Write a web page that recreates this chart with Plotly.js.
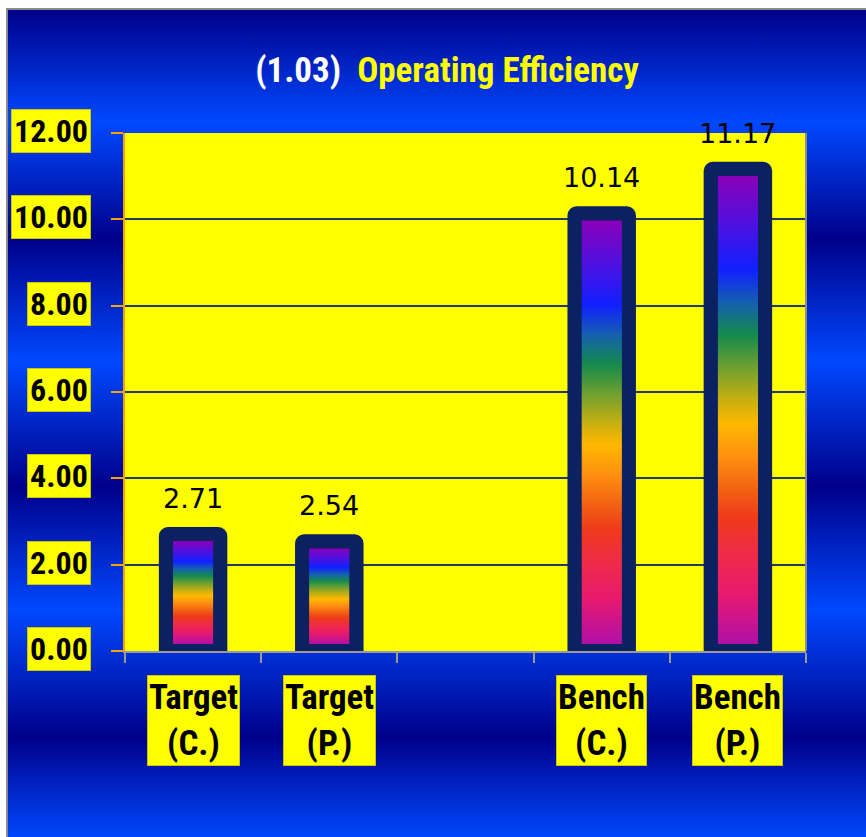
<!DOCTYPE html>
<html><head><meta charset="utf-8">
<script src="https://cdn.plot.ly/plotly-3.0.1.min.js"></script>
<style>
html,body{margin:0;padding:0;background:#fff;width:866px;height:837px;overflow:hidden}
#bg{position:absolute;left:6px;top:8px;width:858px;height:827px;border-left:2px solid #8a8a8a;border-top:2px solid #8a8a8a;
background:linear-gradient(to bottom,#00008a 0px,#0048ff 112px,#00008a 229px,#0048ff 351px,#00008a 477px,#0048ff 600px,#00008a 727px,#0048ff 829px);}
#chart{position:absolute;left:0;top:0;width:866px;height:837px}
</style></head><body><div id="bg"></div><div id="chart"></div>
<script>
// ---- data ----
const categories = ['Target (C.)', 'Target (P.)', ' ', 'Bench (C.)', 'Bench (P.)'];
const tickLabels = ['Target<br>(C.)', 'Target<br>(P.)', '', 'Bench<br>(C.)', 'Bench<br>(P.)'];
const values = [2.71, 2.54, null, 10.14, 11.17];
const valueLabels = ['2.71', '2.54', '', '10.14', '11.17'];
const yTickValues = [0, 2, 4, 6, 8, 10, 12];
const yTickLabels = ['0.00', '2.00', '4.00', '6.00', '8.00', '10.00', '12.00'];
const titlePrefix = '(1.03)';
const titleText = 'Operating Efficiency';

// ---- styling ----
const W = 866, H = 837;
const M = {l: 125, r: 60, t: 133, b: 186};
const plotW = W - M.l - M.r, plotH = H - M.t - M.b;
const yMax = 12;
const barWidth = 0.4;
const frameW = 14;
const frameColor = '#0b2160';
const insetX = (frameW / 2) / (plotW / categories.length);
const insetY = (frameW / 2) / (plotH / yMax);

const stops = [
  [0.00, '#8a00b8'], [0.10, '#5010e0'], [0.20, '#1020ff'], [0.27, '#1460b0'],
  [0.34, '#148a4c'], [0.41, '#70a030'], [0.48, '#c8b010'], [0.53, '#ffb800'],
  [0.60, '#ff9010'], [0.67, '#f26212'], [0.73, '#ef3a1a'], [0.81, '#ee2a48'],
  [0.89, '#e81a6c'], [1.00, '#b010a8']
];
const svg = '<svg xmlns="http://www.w3.org/2000/svg" width="20" height="400" viewBox="0 0 20 400" preserveAspectRatio="none">' +
  '<defs><linearGradient id="g" x1="0" y1="0" x2="0" y2="1">' +
  stops.map(s => '<stop offset="' + s[0] + '" stop-color="' + s[1] + '"/>').join('') +
  '</linearGradient></defs><rect x="0" y="0" width="20" height="400" fill="url(#g)"/></svg>';
const gradSrc = 'data:image/svg+xml;charset=utf-8,' + encodeURIComponent(svg);

const labelFont = {family: 'Roboto Condensed, Liberation Sans Narrow, sans-serif', weight: 700, color: '#000000'};

const images = [];
const annotations = [];
categories.forEach((c, i) => {
  const v = values[i];
  if (v === null) return;
  images.push({
    source: gradSrc, xref: 'x', yref: 'y', x: i, y: insetY,
    xanchor: 'center', yanchor: 'bottom',
    sizex: barWidth - 2 * insetX, sizey: v - 2 * insetY,
    sizing: 'stretch', layer: 'above'
  });
  annotations.push({
    x: c, y: v, xref: 'x', yref: 'y', text: valueLabels[i], showarrow: false,
    yanchor: 'bottom', yshift: 18,
    font: {family: 'DejaVu Sans, sans-serif', size: 27, color: '#000000'}
  });
});
categories.forEach((c, i) => {
  if (!tickLabels[i]) return;
  annotations.push({
    x: c, y: 0, xref: 'x', yref: 'paper', text: tickLabels[i], showarrow: false,
    yanchor: 'top', yshift: -24, bgcolor: '#ffff00', borderpad: 1,
    bordercolor: '#c8c800', borderwidth: 1,
    font: Object.assign({size: 35}, labelFont)
  });
});
yTickValues.forEach((v, i) => {
  annotations.push({
    x: (91 - M.l) / plotW, y: v, xref: 'paper', yref: 'y', text: yTickLabels[i], showarrow: false,
    xanchor: 'right', yanchor: 'middle', yshift: 2, bgcolor: '#ffff00', borderpad: 2,
    bordercolor: '#c8c800', borderwidth: 1,
    font: Object.assign({size: 32}, labelFont)
  });
});

const trace = {
  type: 'bar', x: categories, y: values, width: barWidth,
  marker: {color: frameColor, line: {color: frameColor, width: frameW}, cornerradius: 2},
  hoverinfo: 'none'
};

const layout = {
  width: W, height: H, margin: M,
  paper_bgcolor: 'rgba(0,0,0,0)', plot_bgcolor: '#ffff00',
  showlegend: false,
  title: {
    text: '<span style="color:#ffffff">' + titlePrefix + '</span>\u00a0\u00a0<span style="color:#ffff00">' + titleText + '</span>',
    font: {family: 'Roboto Condensed, sans-serif', size: 35, weight: 700},
    x: 447 / W, xref: 'container', xanchor: 'center',
    y: 1 - 70 / H, yref: 'container', yanchor: 'middle'
  },
  xaxis: {
    type: 'category', categoryorder: 'array', categoryarray: categories,
    range: [-0.5, categories.length - 0.5],
    showticklabels: false, ticks: 'outside', tickson: 'boundaries',
    ticklen: 10, tickwidth: 2, tickcolor: '#9a9a9a',
    showline: true, linecolor: '#9a9a9a', linewidth: 2,
    showgrid: false, zeroline: false, fixedrange: true
  },
  yaxis: {
    range: [0, yMax], tickmode: 'array', tickvals: yTickValues,
    showticklabels: false, ticks: 'outside', ticklen: 12, tickwidth: 2, tickcolor: '#f0a30a',
    showline: true, linecolor: '#f0a30a', linewidth: 2,
    showgrid: true, gridcolor: '#23395d', gridwidth: 2, zeroline: false, fixedrange: true
  },
  shapes: [{type: 'line', xref: 'paper', yref: 'paper', x0: 1, x1: 1, y0: 0, y1: 1,
            line: {color: '#8c8c8c', width: 2}}],
  images: images,
  annotations: annotations
};

Plotly.newPlot('chart', [trace], layout, {displayModeBar: false, staticPlot: true});
</script>
</body></html>
